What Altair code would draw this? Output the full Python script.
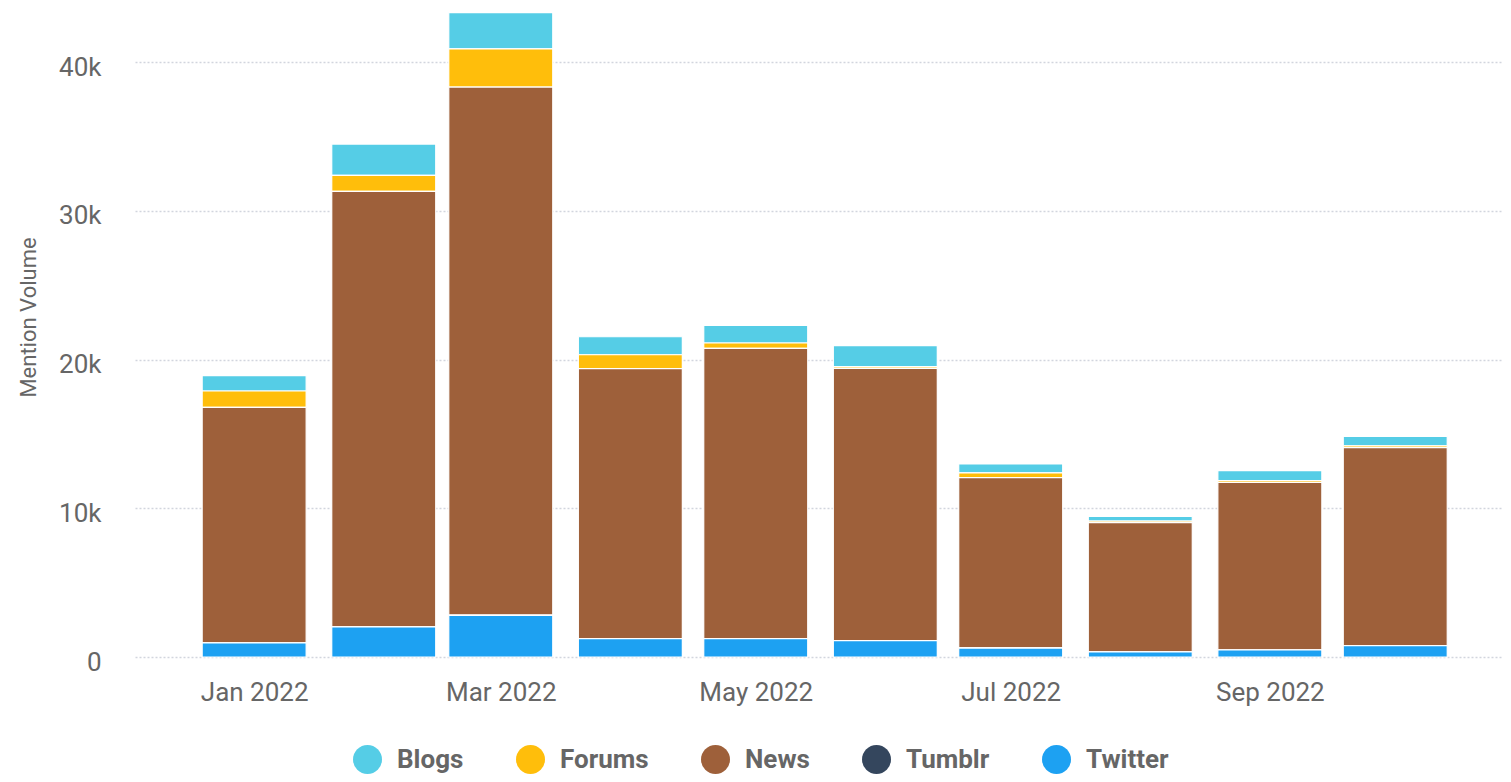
import altair as alt
import pandas as pd

months = ["Jan 2022", "Feb 2022", "Mar 2022", "Apr 2022", "May 2022",
          "Jun 2022", "Jul 2022", "Aug 2022", "Sep 2022", "Oct 2022"]
month_dates = ["2022-01-01", "2022-02-01", "2022-03-01", "2022-04-01", "2022-05-01",
               "2022-06-01", "2022-07-01", "2022-08-01", "2022-09-01", "2022-10-01"]
twitter = [940, 2020, 2800, 1230, 1230, 1100, 600, 340, 470, 760]
tumblr = [10, 10, 10, 10, 10, 10, 10, 10, 10, 10]
news = [15840, 29280, 35520, 18150, 19520, 18300, 11450, 8690, 11270, 13310]
forums = [1100, 1080, 2570, 940, 360, 120, 320, 100, 120, 120]
blogs = [1030, 2110, 2440, 1210, 1180, 1410, 600, 320, 660, 640]

sources = ["Blogs", "Forums", "News", "Tumblr", "Twitter"]
colors = ["#55cde6", "#ffbe0b", "#9e603a", "#34465d", "#1da1f2"]
stack_rank = {"Twitter": 0, "Tumblr": 1, "News": 2, "Forums": 3, "Blogs": 4}
series = {"Blogs": blogs, "Forums": forums, "News": news, "Tumblr": tumblr, "Twitter": twitter}

rows = []
for s, vals in series.items():
    for m, d, v in zip(months, month_dates, vals):
        rows.append({"month": m, "date": d, "source": s, "value": v, "rank": stack_rank[s]})
df = pd.DataFrame(rows)

FONT = "Roboto"
GRAY = "#666666"

label_dates = [alt.DateTime(year=2022, month=m, date=1, utc=True) for m in (1, 3, 5, 7, 9)]

chart = alt.Chart(df).mark_bar(stroke="white", strokeWidth=1.2, width=104).encode(
    x=alt.X("date:T",
            scale=alt.Scale(type="utc",
                            domain=[alt.DateTime(year=2021, month=12, date=4, hours=16, minutes=30, utc=True),
                                    alt.DateTime(year=2022, month=10, date=25, hours=14, utc=True)]),
            axis=alt.Axis(title=None, values=label_dates, format="%b %Y",
                          labelAngle=0, ticks=False, domain=False, grid=False,
                          labelFont=FONT, labelFontSize=26, labelColor=GRAY, labelPadding=22)),
    y=alt.Y("value:Q", stack="zero",
            scale=alt.Scale(domain=[0, 43650], nice=False),
            axis=alt.Axis(title="Mention Volume", values=[0, 10000, 20000, 30000, 40000],
                          labelExpr="datum.value == 0 ? '0' : format(datum.value, '~s')",
                          ticks=False, domain=False, grid=True, gridColor="#d2d5de",
                          gridDash=[2, 2], gridWidth=1.5,
                          labelFont=FONT, labelFontSize=26, labelColor=GRAY, labelPadding=34,
                          labelOffset=5,
                          titleFont=FONT, titleFontSize=22, titleFontWeight="normal",
                          titleColor=GRAY, titlePadding=18, titleY=309)),
    color=alt.Color("source:N", scale=alt.Scale(domain=sources, range=colors),
                    legend=alt.Legend(title=None, orient="none", direction="horizontal",
                                      legendX=218, legendY=737, symbolType="circle",
                                      symbolSize=840, symbolStrokeWidth=0,
                                      labelFont=FONT, labelFontSize=26, labelFontWeight="bold",
                                      labelColor=GRAY, columnPadding=52, labelOffset=15)),
    order=alt.Order("rank:Q", sort="ascending"),
).properties(
    width=1368, height=649,
    autosize=alt.AutoSizeParams(type="none"),
    padding={"left": 127, "top": 0, "right": 0, "bottom": 117},
).configure_view(stroke=None)

chart.save("out.html", embed_options={"renderer": "svg", "actions": False})
